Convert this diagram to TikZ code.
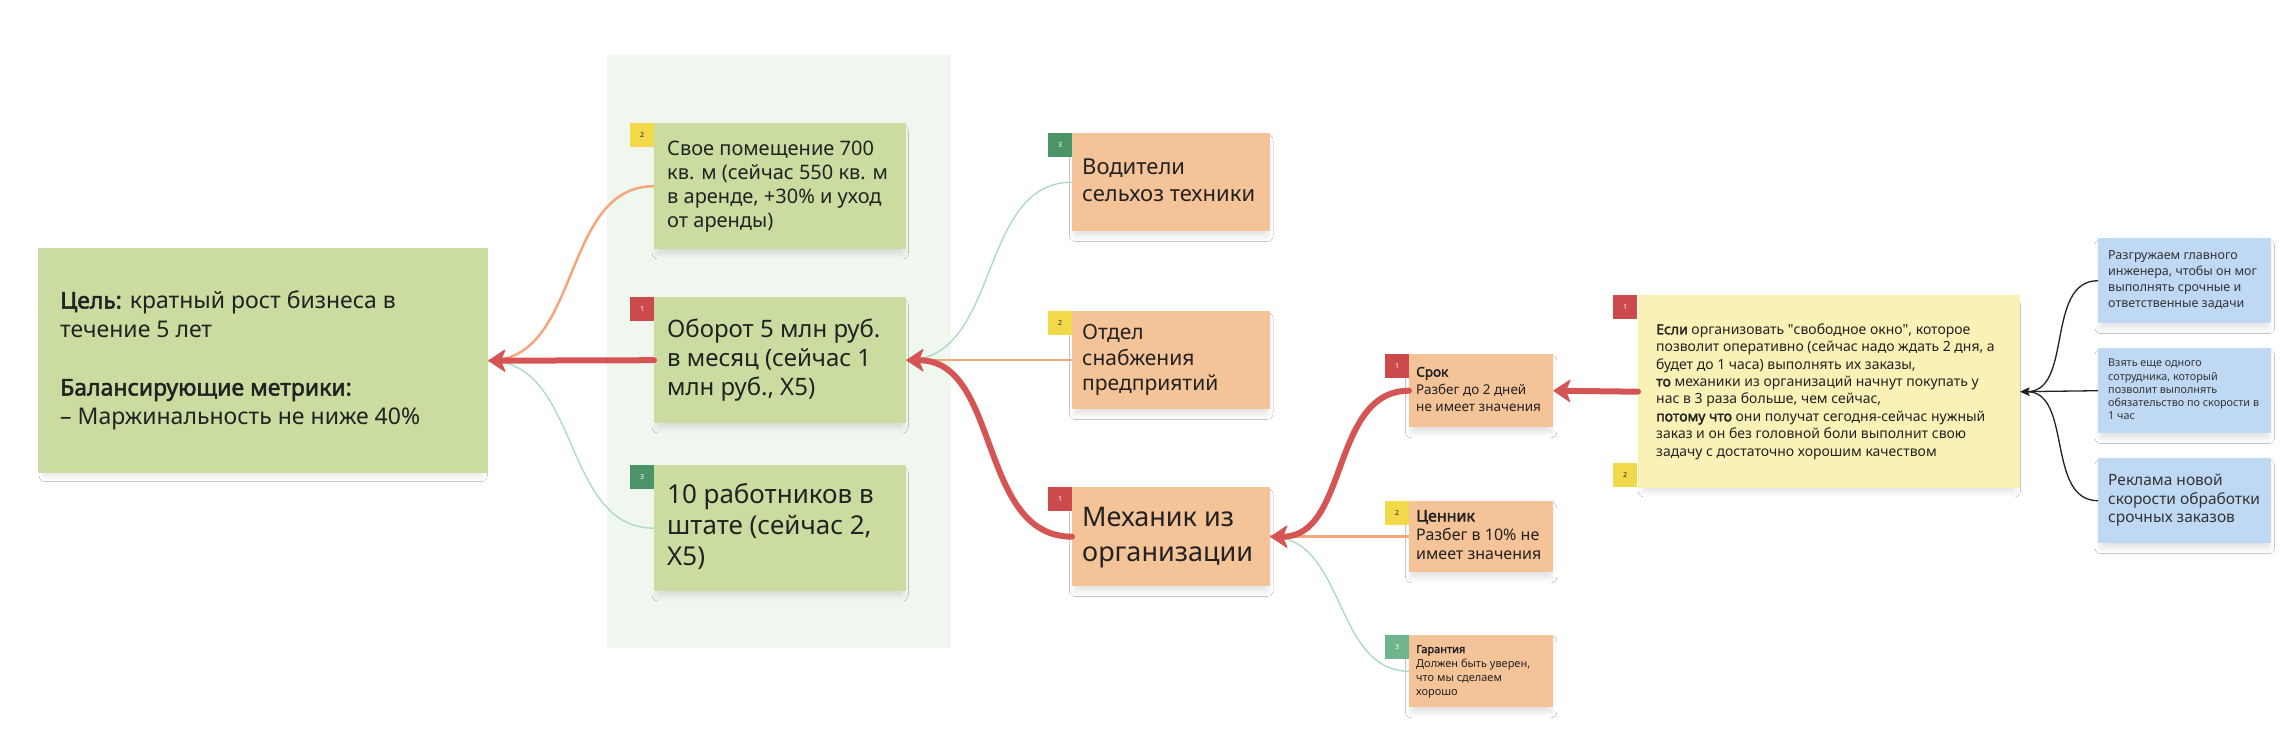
\documentclass[tikz,border=0pt]{standalone}
\usepackage{fontspec}
\setmainfont{Noto Sans}[BoldFont={Noto Sans}, BoldFeatures={FakeBold=2.2}]
\usetikzlibrary{arrows.meta,shadows.blur}

\definecolor{goalgreen}{HTML}{CBDCA0}
\definecolor{panelgreen}{HTML}{F0F7EF}
\definecolor{peach}{HTML}{F5C398}
\definecolor{paleyellow}{HTML}{FAF1B6}
\definecolor{paleblue}{HTML}{BFD8F3}
\definecolor{tagred}{HTML}{CC4A4B}
\definecolor{tagyellow}{HTML}{F2D94A}
\definecolor{tagdgreen}{HTML}{4B9467}
\definecolor{taglgreen}{HTML}{6EB58E}
\definecolor{linkred}{HTML}{D55454}
\definecolor{linkorange}{HTML}{F4A67E}
\definecolor{linkgreen}{HTML}{A9D9C2}
\definecolor{inkdark}{HTML}{222222}
\definecolor{inkgrey}{HTML}{333333}

\newcommand{\cardlines}[1]{\begin{tabular}{@{}l@{}}#1\end{tabular}}

\tikzset{
  card/.style={rectangle, anchor=north west, inner ysep=0pt, align=flush left, text=inkdark,
    blur shadow={shadow xshift=0pt, shadow yshift=-6pt, shadow scale=0.97, shadow opacity=12, shadow blur radius=6pt}},
  tagbox/.style={rectangle, anchor=north west, minimum width=24pt, minimum height=24pt, inner sep=0pt,
    font=\fontsize{7}{8}\selectfont},
  redlink/.style={draw=linkred, line width=6pt, line cap=round},
  redarrow/.style={redlink, -{Stealth[length=18pt,width=24pt,inset=5pt,round,line width=1pt]}},
  orangelink/.style={draw=linkorange, line width=2.5pt},
  greenlink/.style={draw=linkgreen, line width=1.3pt},
  blacklink/.style={draw=inkdark, line width=1.3pt, -{Stealth[length=9pt,width=8pt,inset=2pt]}}
}

\begin{document}
\begin{tikzpicture}[x=1pt,y=-1pt]
\useasboundingbox (0,0) rectangle (2286,736);
\fill[white] (0,0) rectangle (2286,736);

% background panel
\fill[panelgreen] (607,55) rectangle (951,648);

% goal
\node[card, fill=goalgreen, minimum width=450pt, minimum height=225pt, text width=406pt, inner xsep=22pt,
  font=\fontsize{23}{29}\selectfont] (goal) at (38,248)
  {\cardlines{\textbf{Цель:} кратный рост бизнеса в\\течение 5 лет\\[29pt]\textbf{Балансирующие метрики:}\\– Маржинальность не ниже 40\%}};

% metrics
\node[card, fill=goalgreen, minimum width=252pt, minimum height=126pt, text width=226pt, inner xsep=13pt,
  font=\fontsize{20}{24}\selectfont] (room) at (654,123)
  {\cardlines{Свое помещение 700\\кв. м (сейчас 550 кв. м\\в аренде, +30\% и уход\\от аренды)}};
\node[tagbox, fill=tagyellow, text=inkdark] (roomtag) at (630,123) {2};

\node[card, fill=goalgreen, minimum width=252pt, minimum height=126pt, text width=226pt, inner xsep=13pt,
  font=\fontsize{24}{29}\selectfont] (turn) at (654,297)
  {\cardlines{Оборот 5 млн руб.\\в месяц (сейчас 1\\млн руб., X5)}};
\node[tagbox, fill=tagred, text=white] (turntag) at (630,297) {1};

\node[card, fill=goalgreen, minimum width=252pt, minimum height=126pt, text width=226pt, inner xsep=13pt,
  font=\fontsize{26}{31}\selectfont] (staff) at (654,465)
  {\cardlines{10 работников в\\штате (сейчас 2,\\X5)}};
\node[tagbox, fill=tagdgreen, text=white] (stafftag) at (630,465) {3};

% segments
\node[card, fill=peach, minimum width=198pt, minimum height=98pt, text width=178pt, inner xsep=10pt,
  font=\fontsize{22}{27}\selectfont] (driver) at (1072,133)
  {\cardlines{Водители\\сельхоз техники}};
\node[tagbox, fill=tagdgreen, text=white] (drivertag) at (1048,133) {3};

\node[card, fill=peach, minimum width=198pt, minimum height=98pt, text width=178pt, inner xsep=10pt,
  font=\fontsize{21}{25.5}\selectfont] (supply) at (1072,311)
  {\cardlines{Отдел\\снабжения\\предприятий}};
\node[tagbox, fill=tagyellow, text=inkdark] (supplytag) at (1048,311) {2};

\node[card, fill=peach, minimum width=198pt, minimum height=99pt, text width=178pt, inner xsep=10pt,
  font=\fontsize{27}{35}\selectfont] (mech) at (1072,487)
  {\cardlines{Механик из\\организации}};
\node[tagbox, fill=tagred, text=white] (mechtag) at (1048,487) {1};

% criteria
\node[card, fill=peach, minimum width=144pt, minimum height=73pt, text width=130pt, inner xsep=7pt,
  font=\fontsize{13.5}{17.5}\selectfont] (term) at (1409,354)
  {\cardlines{\textbf{Срок}\\Разбег до 2 дней\\не имеет значения}};
\node[tagbox, fill=tagred, text=white] (termtag) at (1385,354) {1};

\node[card, fill=peach, minimum width=144pt, minimum height=71pt, text width=130pt, inner xsep=7pt,
  font=\fontsize{16}{19}\selectfont] (price) at (1409,501)
  {\cardlines{\textbf{Ценник}\\Разбег в 10\% не\\имеет значения}};
\node[tagbox, fill=tagyellow, text=inkdark] (pricetag) at (1385,501) {2};

\node[card, fill=peach, minimum width=144pt, minimum height=72pt, text width=130pt, inner xsep=7pt,
  font=\fontsize{11}{14}\selectfont] (warranty) at (1409,635)
  {\cardlines{\textbf{Гарантия}\\Должен быть уверен,\\что мы сделаем\\хорошо}};
\node[tagbox, fill=taglgreen, text=white] (warrantytag) at (1385,635) {3};

% hypothesis
\node[card, fill=paleyellow, minimum width=382pt, minimum height=193pt, text width=346pt, inner xsep=18pt,
  font=\fontsize{14}{17.4}\selectfont] (hyp) at (1638,295)
  {\cardlines{\textbf{Если} организовать \textquotedbl свободное окно\textquotedbl, которое\\
   позволит оперативно (сейчас надо ждать 2 дня, а\\
   будет до 1 часа) выполнять их заказы,\\
   \textbf{то} механики из организаций начнут покупать у\\
   нас в 3 раза больше, чем сейчас,\\
   \textbf{потому что} они получат сегодня-сейчас нужный\\
   заказ и он без головной боли выполнит свою\\
   задачу с достаточно хорошим качеством}};
\node[tagbox, fill=tagred, text=white] (hyptag) at (1613,295) {1};
\node[tagbox, fill=tagyellow, text=inkdark] (hyptagb) at (1613,463) {2};

% actions
\node[card, fill=paleblue, text=inkgrey, minimum width=173pt, minimum height=85pt, text width=153pt, inner xsep=10pt,
  font=\fontsize{12.5}{16}\selectfont] (act1) at (2098,238)
  {\cardlines{Разгружаем главного\\инженера, чтобы он мог\\выполнять срочные и\\ответственные задачи}};
\node[card, fill=paleblue, text=inkgrey, minimum width=173pt, minimum height=85pt, text width=153pt, inner xsep=10pt,
  font=\fontsize{10.8}{13.3}\selectfont] (act2) at (2098,348)
  {\cardlines{Взять еще одного\\сотрудника, который\\позволит выполнять\\обязательство по скорости в\\1 час}};
\node[card, fill=paleblue, text=inkgrey, minimum width=173pt, minimum height=85pt, text width=153pt, inner xsep=10pt,
  font=\fontsize{15.5}{18.5}\selectfont] (act3) at (2098,458)
  {\cardlines{Реклама новой\\скорости обработки\\срочных заказов}};

% connectors: thin first
\draw[orangelink] (room.west) to[out=180,in=0] (goal.east);
\draw[greenlink] (staff.west) to[out=180,in=0] (goal.east);
\draw[redarrow] (turn.west) -- (goal.east);

\draw[greenlink] (driver.west) to[out=180,in=0] (turn.east);
\draw[orangelink] (supply.west) -- (turn.east);
\draw[redarrow] (mech.west) to[out=180,in=0] (turn.east);

\draw[orangelink] (price.west) -- (mech.east);
\draw[greenlink] (warranty.west) to[out=180,in=0] (mech.east);
\draw[redarrow] (term.west) to[out=180,in=0] (mech.east);

\draw[redarrow] (hyp.west) -- (term.east);

\draw[blacklink] (act1.west) to[out=180,in=0] (hyp.east);
\draw[blacklink] (act2.west) -- (hyp.east);
\draw[blacklink] (act3.west) to[out=180,in=0] (hyp.east);
\end{tikzpicture}
\end{document}
